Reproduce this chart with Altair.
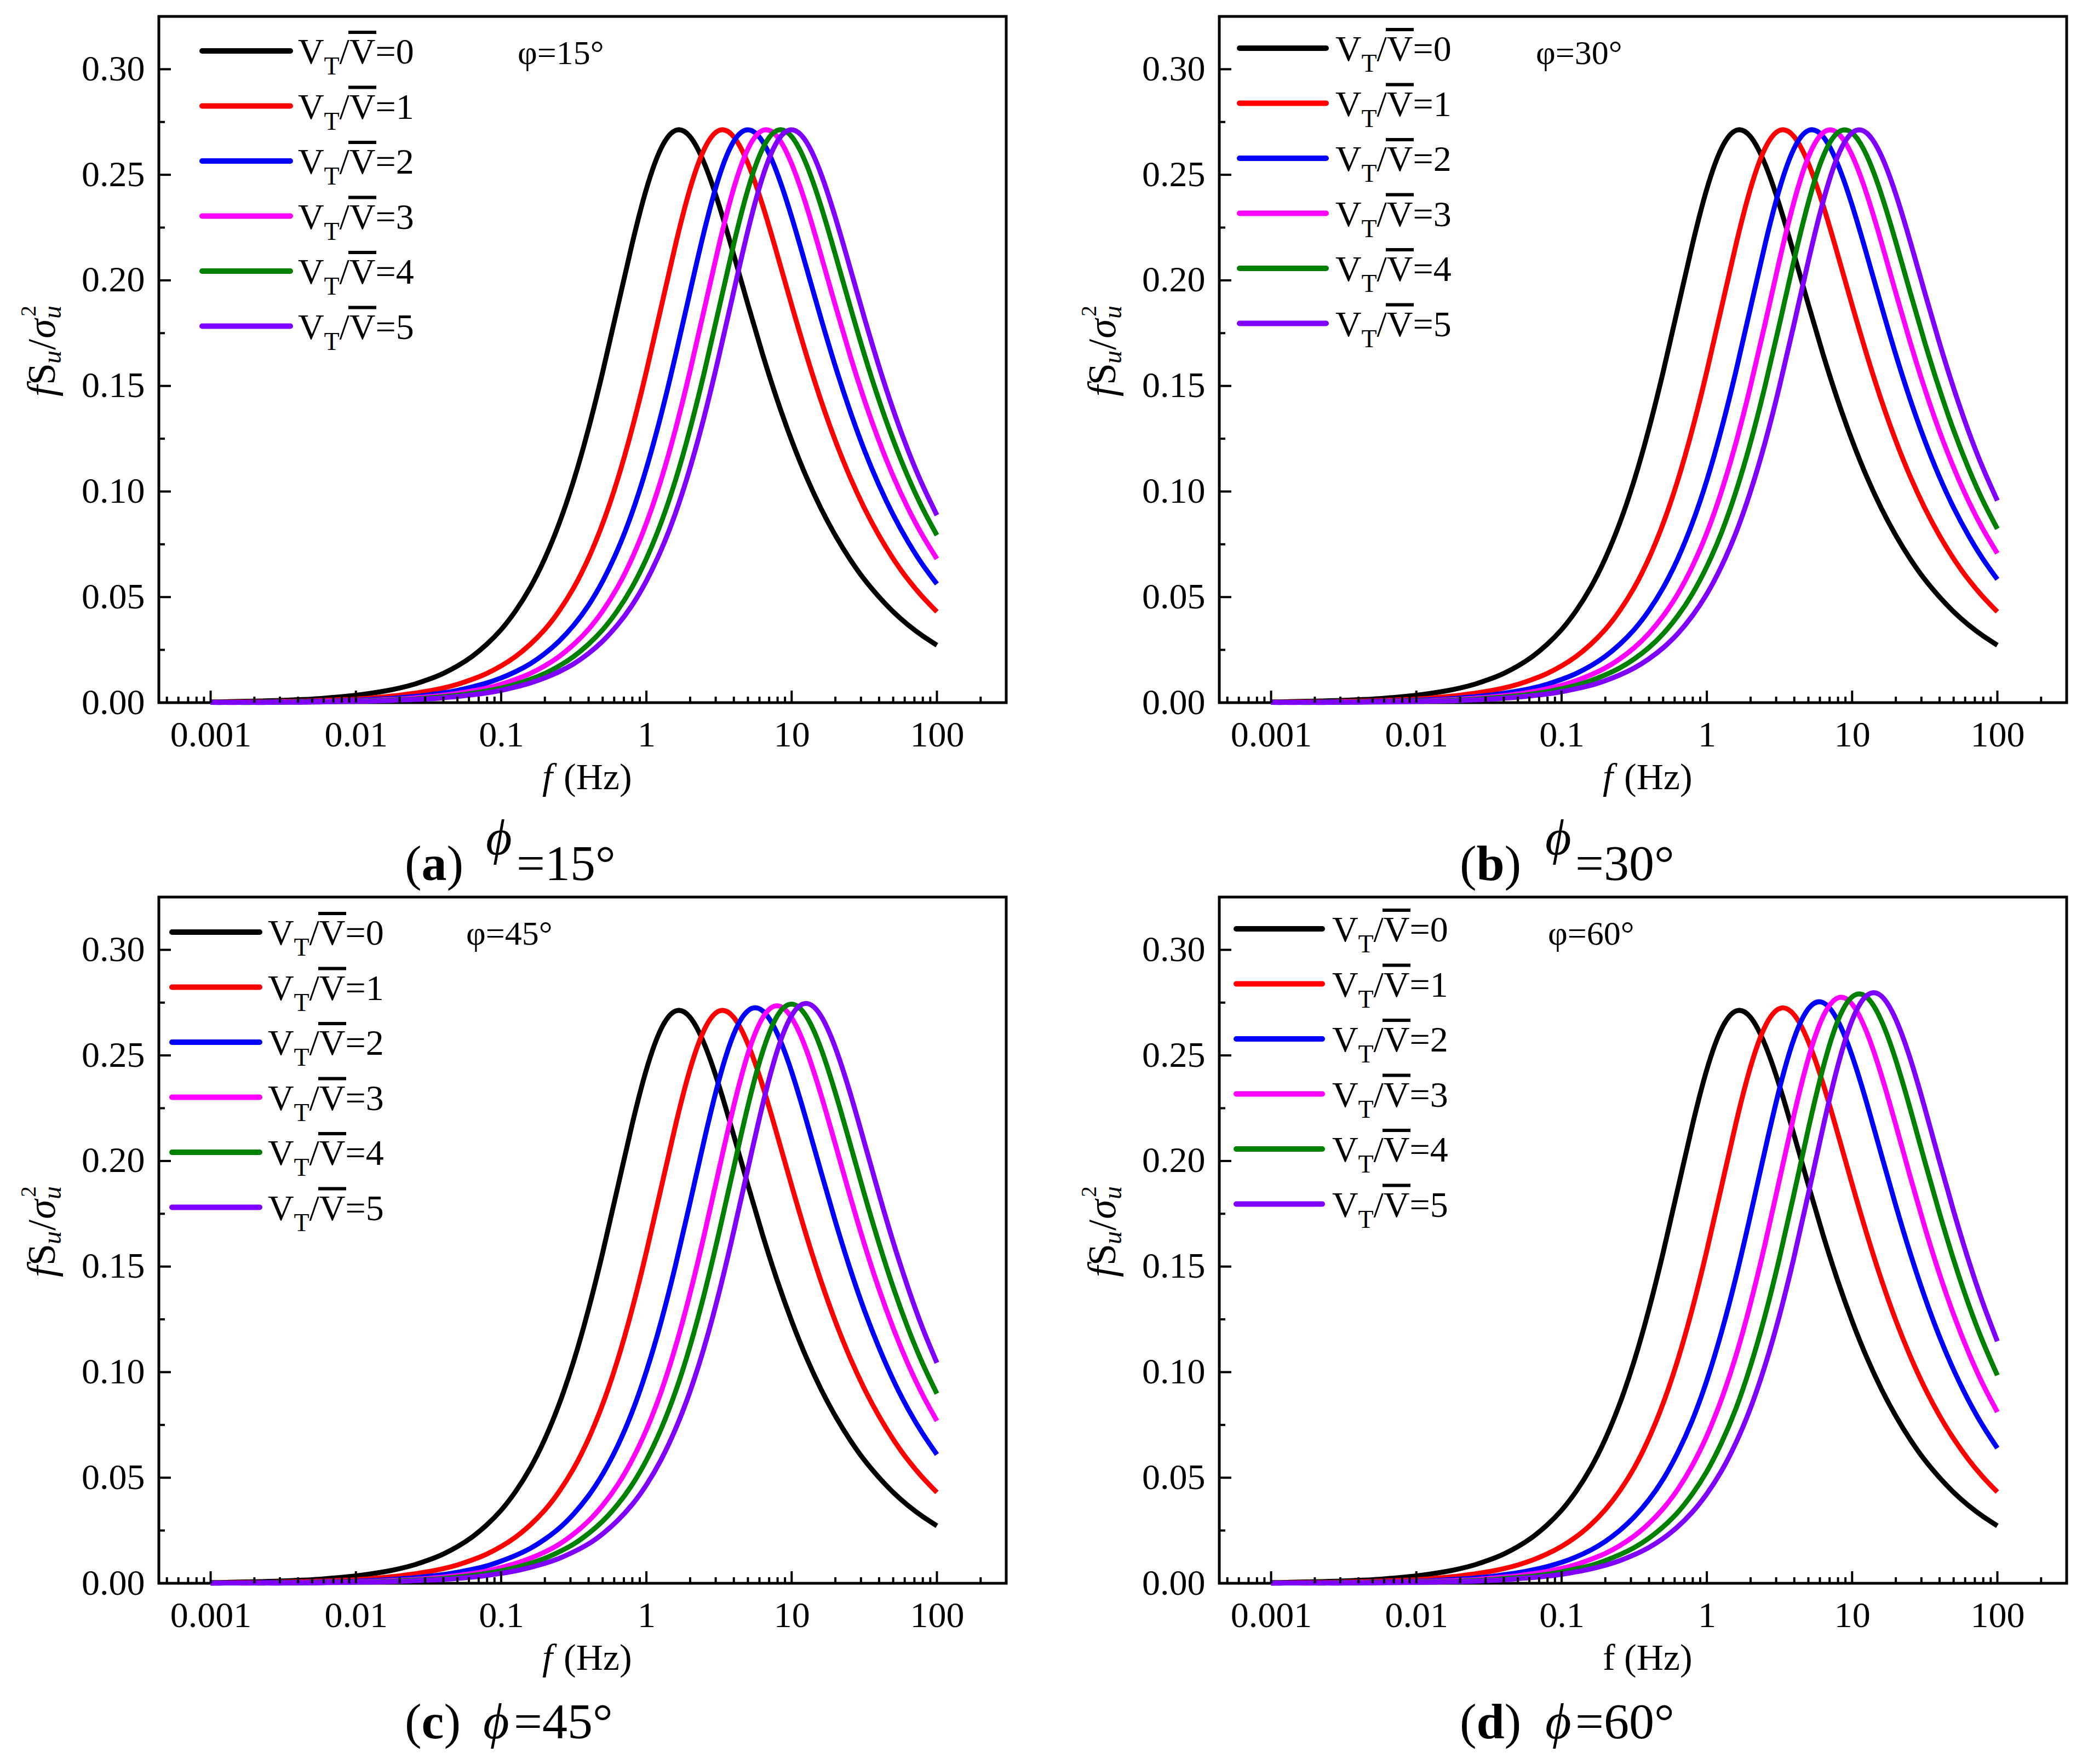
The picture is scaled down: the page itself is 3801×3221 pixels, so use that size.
"""
Four-panel spectrum chart: fS_u/sigma_u^2 against frequency for V_T/V = 0..5,
one panel per wind angle phi (15, 30, 45, 60 degrees).
"""

import altair as alt
import pandas as pd

SERIF = "Liberation Serif"
W, H = 1547, 1253  # plot area of one panel

# ===========================================================
# Data
# ===========================================================

F_HZ = [0.001, 0.001259, 0.001585, 0.001995, 0.002512, 0.003162, 0.003981, 0.005012, 0.00631, 0.007943,
        0.01, 0.01259, 0.01585, 0.01995, 0.02512, 0.03162, 0.03981, 0.05012, 0.0631, 0.07943,
        0.1, 0.1259, 0.1585, 0.1995, 0.2512, 0.3162, 0.3981, 0.5012, 0.631, 0.7943,
        1, 1.259, 1.585, 1.995, 2.512, 3.162, 3.981, 5.012, 6.31, 7.943,
        10, 12.59, 15.85, 19.95, 25.12, 31.62, 39.81, 50.12, 63.1, 79.43,
        100]

# V_T/V = 0 (same in every panel)
VT0 = [0.0003, 0.0004, 0.0006, 0.0007, 0.0009, 0.0011, 0.0014, 0.0017, 0.0022, 0.0028,
       0.0035, 0.0044, 0.0055, 0.0069, 0.0087, 0.0110, 0.0138, 0.0174, 0.0219, 0.0276,
       0.0346, 0.0435, 0.0545, 0.0682, 0.0850, 0.1053, 0.1294, 0.1569, 0.1868, 0.2168,
       0.2433, 0.2624, 0.2710, 0.2681, 0.2552, 0.2356, 0.2124, 0.1883, 0.1650, 0.1435,
       0.1242, 0.1071, 0.0922, 0.0793, 0.0681, 0.0584, 0.0502, 0.0430, 0.0369, 0.0317,
       0.0272]

# V_T/V = 1 for phi = 15, 30, 45
VT1 = [0.0002, 0.0002, 0.0003, 0.0003, 0.0004, 0.0006, 0.0007, 0.0009, 0.0011, 0.0014,
       0.0017, 0.0022, 0.0028, 0.0035, 0.0044, 0.0055, 0.0069, 0.0087, 0.0110, 0.0138,
       0.0174, 0.0219, 0.0276, 0.0346, 0.0435, 0.0545, 0.0682, 0.0850, 0.1053, 0.1294,
       0.1569, 0.1868, 0.2168, 0.2433, 0.2624, 0.2710, 0.2681, 0.2552, 0.2356, 0.2124,
       0.1883, 0.1650, 0.1435, 0.1242, 0.1071, 0.0922, 0.0793, 0.0681, 0.0584, 0.0502,
       0.0430]

# phi = 15
P15_VT2 = [0.0001, 0.0001, 0.0002, 0.0002, 0.0003, 0.0004, 0.0005, 0.0006, 0.0007, 0.0009,
           0.0012, 0.0015, 0.0018, 0.0023, 0.0029, 0.0037, 0.0046, 0.0058, 0.0074, 0.0093,
           0.0117, 0.0147, 0.0184, 0.0232, 0.0292, 0.0367, 0.0460, 0.0577, 0.0721, 0.0897,
           0.1110, 0.1360, 0.1643, 0.1944, 0.2239, 0.2490, 0.2657, 0.2713, 0.2657, 0.2508,
           0.2300, 0.2064, 0.1824, 0.1595, 0.1385, 0.1197, 0.1032, 0.0888, 0.0763, 0.0655,
           0.0562]
P15_VT3 = [0.0001, 0.0001, 0.0001, 0.0002, 0.0002, 0.0003, 0.0003, 0.0004, 0.0006, 0.0007,
           0.0009, 0.0011, 0.0014, 0.0017, 0.0022, 0.0028, 0.0035, 0.0044, 0.0055, 0.0069,
           0.0087, 0.0110, 0.0138, 0.0174, 0.0219, 0.0276, 0.0346, 0.0435, 0.0545, 0.0682,
           0.0850, 0.1053, 0.1294, 0.1569, 0.1868, 0.2168, 0.2433, 0.2624, 0.2710, 0.2681,
           0.2552, 0.2356, 0.2124, 0.1883, 0.1650, 0.1435, 0.1242, 0.1071, 0.0922, 0.0793,
           0.0681]
P15_VT4 = [0.0001, 0.0001, 0.0001, 0.0001, 0.0002, 0.0002, 0.0003, 0.0003, 0.0004, 0.0006,
           0.0007, 0.0009, 0.0011, 0.0014, 0.0017, 0.0022, 0.0028, 0.0035, 0.0044, 0.0055,
           0.0069, 0.0087, 0.0110, 0.0138, 0.0174, 0.0219, 0.0276, 0.0346, 0.0435, 0.0545,
           0.0682, 0.0850, 0.1053, 0.1294, 0.1569, 0.1868, 0.2168, 0.2433, 0.2624, 0.2710,
           0.2681, 0.2552, 0.2356, 0.2124, 0.1883, 0.1650, 0.1435, 0.1242, 0.1071, 0.0922,
           0.0793]
P15_VT5 = [0.0001, 0.0001, 0.0001, 0.0001, 0.0001, 0.0002, 0.0002, 0.0003, 0.0004, 0.0005,
           0.0006, 0.0007, 0.0009, 0.0012, 0.0015, 0.0018, 0.0023, 0.0029, 0.0037, 0.0046,
           0.0058, 0.0074, 0.0093, 0.0117, 0.0147, 0.0184, 0.0232, 0.0292, 0.0367, 0.0460,
           0.0577, 0.0721, 0.0897, 0.1110, 0.1360, 0.1643, 0.1944, 0.2239, 0.2490, 0.2657,
           0.2713, 0.2657, 0.2508, 0.2300, 0.2064, 0.1824, 0.1595, 0.1385, 0.1197, 0.1032,
           0.0888]

# phi = 30
P30_VT2 = [0.0001, 0.0001, 0.0002, 0.0002, 0.0003, 0.0003, 0.0004, 0.0006, 0.0007, 0.0009,
           0.0011, 0.0014, 0.0017, 0.0022, 0.0028, 0.0035, 0.0044, 0.0055, 0.0069, 0.0087,
           0.0110, 0.0138, 0.0174, 0.0219, 0.0276, 0.0346, 0.0435, 0.0545, 0.0682, 0.0850,
           0.1053, 0.1294, 0.1569, 0.1868, 0.2168, 0.2433, 0.2624, 0.2710, 0.2681, 0.2552,
           0.2356, 0.2124, 0.1883, 0.1650, 0.1435, 0.1242, 0.1071, 0.0922, 0.0793, 0.0681,
           0.0584]
P30_VT3 = [0.0001, 0.0001, 0.0001, 0.0002, 0.0002, 0.0003, 0.0003, 0.0004, 0.0005, 0.0007,
           0.0008, 0.0010, 0.0013, 0.0016, 0.0021, 0.0026, 0.0033, 0.0041, 0.0052, 0.0066,
           0.0082, 0.0104, 0.0131, 0.0164, 0.0207, 0.0260, 0.0327, 0.0411, 0.0515, 0.0645,
           0.0804, 0.0999, 0.1230, 0.1498, 0.1792, 0.2095, 0.2372, 0.2586, 0.2699, 0.2698,
           0.2592, 0.2410, 0.2184, 0.1943, 0.1707, 0.1487, 0.1288, 0.1112, 0.0957, 0.0823,
           0.0707]
P30_VT4 = [0.0001, 0.0001, 0.0001, 0.0001, 0.0002, 0.0002, 0.0003, 0.0003, 0.0004, 0.0005,
           0.0007, 0.0008, 0.0010, 0.0013, 0.0016, 0.0021, 0.0026, 0.0033, 0.0041, 0.0052,
           0.0066, 0.0082, 0.0104, 0.0131, 0.0164, 0.0207, 0.0260, 0.0327, 0.0411, 0.0515,
           0.0645, 0.0804, 0.0999, 0.1230, 0.1498, 0.1792, 0.2095, 0.2372, 0.2586, 0.2699,
           0.2698, 0.2592, 0.2410, 0.2184, 0.1943, 0.1707, 0.1487, 0.1288, 0.1112, 0.0957,
           0.0823]
P30_VT5 = [0.0001, 0.0001, 0.0001, 0.0001, 0.0001, 0.0002, 0.0002, 0.0003, 0.0003, 0.0004,
           0.0005, 0.0007, 0.0008, 0.0010, 0.0013, 0.0016, 0.0021, 0.0026, 0.0033, 0.0041,
           0.0052, 0.0066, 0.0082, 0.0104, 0.0131, 0.0164, 0.0207, 0.0260, 0.0327, 0.0411,
           0.0515, 0.0645, 0.0804, 0.0999, 0.1230, 0.1498, 0.1792, 0.2095, 0.2372, 0.2586,
           0.2699, 0.2698, 0.2592, 0.2410, 0.2184, 0.1943, 0.1707, 0.1487, 0.1288, 0.1112,
           0.0957]

# phi = 45
P45_VT2 = [0.0001, 0.0001, 0.0002, 0.0002, 0.0003, 0.0003, 0.0004, 0.0005, 0.0007, 0.0008,
           0.0010, 0.0013, 0.0016, 0.0021, 0.0026, 0.0033, 0.0041, 0.0052, 0.0066, 0.0082,
           0.0105, 0.0132, 0.0165, 0.0208, 0.0261, 0.0329, 0.0413, 0.0518, 0.0648, 0.0808,
           0.1004, 0.1236, 0.1505, 0.1801, 0.2105, 0.2384, 0.2599, 0.2712, 0.2711, 0.2605,
           0.2422, 0.2195, 0.1953, 0.1716, 0.1494, 0.1294, 0.1118, 0.0962, 0.0827, 0.0711,
           0.0610]
P45_VT3 = [0.0001, 0.0001, 0.0001, 0.0001, 0.0002, 0.0002, 0.0003, 0.0004, 0.0005, 0.0006,
           0.0007, 0.0009, 0.0012, 0.0015, 0.0018, 0.0023, 0.0029, 0.0037, 0.0046, 0.0058,
           0.0075, 0.0094, 0.0118, 0.0148, 0.0185, 0.0234, 0.0294, 0.0370, 0.0464, 0.0582,
           0.0727, 0.0904, 0.1119, 0.1371, 0.1656, 0.1960, 0.2257, 0.2510, 0.2678, 0.2735,
           0.2678, 0.2528, 0.2318, 0.2081, 0.1839, 0.1608, 0.1396, 0.1207, 0.1040, 0.0895,
           0.0769]
P45_VT4 = [0.0001, 0.0001, 0.0001, 0.0001, 0.0001, 0.0002, 0.0002, 0.0003, 0.0004, 0.0005,
           0.0006, 0.0007, 0.0009, 0.0012, 0.0015, 0.0018, 0.0023, 0.0029, 0.0037, 0.0047,
           0.0059, 0.0075, 0.0094, 0.0118, 0.0149, 0.0186, 0.0235, 0.0295, 0.0371, 0.0465,
           0.0583, 0.0729, 0.0907, 0.1122, 0.1375, 0.1661, 0.1965, 0.2264, 0.2517, 0.2686,
           0.2743, 0.2686, 0.2536, 0.2325, 0.2087, 0.1844, 0.1613, 0.1400, 0.1210, 0.1043,
           0.0898]
P45_VT5 = [0.0000, 0.0001, 0.0001, 0.0001, 0.0001, 0.0001, 0.0002, 0.0002, 0.0003, 0.0004,
           0.0005, 0.0006, 0.0007, 0.0009, 0.0012, 0.0015, 0.0018, 0.0023, 0.0029, 0.0037,
           0.0047, 0.0059, 0.0075, 0.0094, 0.0118, 0.0149, 0.0186, 0.0235, 0.0296, 0.0371,
           0.0466, 0.0584, 0.0730, 0.0908, 0.1123, 0.1376, 0.1663, 0.1967, 0.2266, 0.2520,
           0.2689, 0.2746, 0.2689, 0.2538, 0.2328, 0.2089, 0.1846, 0.1614, 0.1402, 0.1211,
           0.1044]

# phi = 60
P60_VT1 = [0.0002, 0.0002, 0.0003, 0.0003, 0.0004, 0.0006, 0.0007, 0.0009, 0.0011, 0.0014,
           0.0017, 0.0022, 0.0028, 0.0035, 0.0044, 0.0055, 0.0069, 0.0087, 0.0110, 0.0139,
           0.0175, 0.0220, 0.0277, 0.0348, 0.0437, 0.0547, 0.0685, 0.0854, 0.1058, 0.1300,
           0.1576, 0.1876, 0.2178, 0.2444, 0.2636, 0.2722, 0.2693, 0.2563, 0.2366, 0.2133,
           0.1891, 0.1657, 0.1441, 0.1247, 0.1076, 0.0926, 0.0796, 0.0684, 0.0587, 0.0504,
           0.0432]
P60_VT2 = [0.0001, 0.0001, 0.0002, 0.0002, 0.0002, 0.0003, 0.0004, 0.0005, 0.0006, 0.0008,
           0.0010, 0.0012, 0.0016, 0.0020, 0.0025, 0.0031, 0.0040, 0.0050, 0.0063, 0.0079,
           0.0099, 0.0125, 0.0157, 0.0198, 0.0250, 0.0314, 0.0394, 0.0494, 0.0619, 0.0772,
           0.0961, 0.1187, 0.1449, 0.1743, 0.2050, 0.2342, 0.2579, 0.2722, 0.2750, 0.2666,
           0.2498, 0.2277, 0.2033, 0.1791, 0.1563, 0.1356, 0.1171, 0.1009, 0.0868, 0.0746,
           0.0640]
P60_VT3 = [0.0001, 0.0001, 0.0001, 0.0001, 0.0002, 0.0002, 0.0003, 0.0003, 0.0004, 0.0006,
           0.0007, 0.0009, 0.0011, 0.0014, 0.0017, 0.0023, 0.0029, 0.0036, 0.0045, 0.0056,
           0.0071, 0.0089, 0.0113, 0.0141, 0.0178, 0.0224, 0.0282, 0.0354, 0.0445, 0.0558,
           0.0698, 0.0870, 0.1077, 0.1324, 0.1605, 0.1911, 0.2218, 0.2489, 0.2684, 0.2772,
           0.2743, 0.2611, 0.2410, 0.2173, 0.1926, 0.1688, 0.1468, 0.1271, 0.1096, 0.0943,
           0.0811]
P60_VT4 = [0.0001, 0.0001, 0.0001, 0.0001, 0.0001, 0.0002, 0.0002, 0.0003, 0.0003, 0.0004,
           0.0005, 0.0007, 0.0008, 0.0010, 0.0013, 0.0016, 0.0022, 0.0027, 0.0034, 0.0042,
           0.0054, 0.0068, 0.0084, 0.0107, 0.0135, 0.0169, 0.0213, 0.0268, 0.0336, 0.0423,
           0.0530, 0.0664, 0.0827, 0.1028, 0.1266, 0.1541, 0.1844, 0.2156, 0.2441, 0.2661,
           0.2777, 0.2776, 0.2667, 0.2480, 0.2247, 0.1999, 0.1757, 0.1530, 0.1325, 0.1144,
           0.0985]
P60_VT5 = [0.0000, 0.0001, 0.0001, 0.0001, 0.0001, 0.0001, 0.0002, 0.0002, 0.0003, 0.0003,
           0.0004, 0.0005, 0.0007, 0.0008, 0.0010, 0.0013, 0.0016, 0.0022, 0.0027, 0.0034,
           0.0042, 0.0054, 0.0068, 0.0085, 0.0107, 0.0135, 0.0169, 0.0213, 0.0268, 0.0337,
           0.0424, 0.0531, 0.0665, 0.0829, 0.1030, 0.1268, 0.1544, 0.1848, 0.2160, 0.2446,
           0.2666, 0.2783, 0.2782, 0.2672, 0.2485, 0.2252, 0.2003, 0.1760, 0.1533, 0.1328,
           0.1146]

VT_RATIOS = ["0", "1", "2", "3", "4", "5"]
SERIES_COLORS = ["#000000", "#ff0000", "#0000ff", "#ff00ff", "#008000", "#8000ff"]

X_MAJOR = [0.001, 0.01, 0.1, 1, 10, 100]
X_MINOR = [0.0005, 0.0006, 0.0007, 0.0008, 0.0009,
           0.002, 0.003, 0.004, 0.005, 0.006, 0.007, 0.008, 0.009,
           0.02, 0.03, 0.04, 0.05, 0.06, 0.07, 0.08, 0.09,
           0.2, 0.3, 0.4, 0.5, 0.6, 0.7, 0.8, 0.9,
           2, 3, 4, 5, 6, 7, 8, 9,
           20, 30, 40, 50, 60, 70, 80, 90, 200]
Y_MAJOR = [0.0, 0.05, 0.10, 0.15, 0.20, 0.25, 0.30]
Y_MINOR = [0.025, 0.075, 0.125, 0.175, 0.225, 0.275]

# per-panel text and layout (pixel offsets relative to the plot area)
PANELS = [
    dict(curves=[VT0, VT1, P15_VT2, P15_VT3, P15_VT4, P15_VT5], phi="15", letter="a",
         f_style="italic", swatch=(79, 240), tx=254, ly0=63, phi_x=655,
         cap_y=1577, paren_x=449, cphi_x=597, eq_x=653, raised=True),
    dict(curves=[VT0, VT1, P30_VT2, P30_VT3, P30_VT4, P30_VT5], phi="30", letter="b",
         f_style="italic", swatch=(37, 195), tx=212, ly0=58, phi_x=578,
         cap_y=1577, paren_x=439, cphi_x=595, eq_x=650, raised=True),
    dict(curves=[VT0, VT1, P45_VT2, P45_VT3, P45_VT4, P45_VT5], phi="45", letter="c",
         f_style="italic", swatch=(24, 184), tx=199, ly0=64, phi_x=561,
         cap_y=1536, paren_x=449, cphi_x=592, eq_x=648, raised=False),
    dict(curves=[VT0, P60_VT1, P60_VT2, P60_VT3, P60_VT4, P60_VT5], phi="60", letter="d",
         f_style="normal", swatch=(31, 188), tx=206, ly0=58, phi_x=600,
         cap_y=1536, paren_x=439, cphi_x=595, eq_x=650, raised=False),
]

BOLD_ADVANCE = {"a": 46, "b": 51, "c": 41, "d": 51}
LEG_DY = 100.5

ONE = pd.DataFrame({"o": [0]})


# ===========================================================
# Chart helpers
# ===========================================================

def _text(txt, x, y, size=66, style="normal", weight="normal", angle=0):
    return alt.Chart(ONE).mark_text(
        font=SERIF, fontSize=size, fontStyle=style, fontWeight=weight,
        align="left", baseline="alphabetic", angle=angle, color="black",
    ).encode(x=alt.value(x), y=alt.value(y), text=alt.value(txt))


def _x_axis():
    # every layer that uses the x scale gets the same axis, so the merge keeps it
    return alt.Axis(
        values=X_MAJOR, format="~g", title=None, ticks=False, tickSize=0,
        domain=False, grid=False, labelPadding=27, labelFlush=False,
        labelOverlap=False, labelFont=SERIF, labelFontSize=66, labelColor="black")


def make_panel(p):
    xs = alt.Scale(type="log", domain=[0.00044, 300], nice=False)
    ys = alt.Scale(domain=[0, 0.325], nice=False)
    colors = alt.Scale(domain=VT_RATIOS, range=SERIES_COLORS)

    rows = []
    for k, vals in zip(VT_RATIOS, p["curves"]):
        for f, v in zip(F_HZ, vals):
            rows.append({"f": f, "s": v, "k": k})
    df = pd.DataFrame(rows)

    lines = alt.Chart(df).mark_line(strokeWidth=9, interpolate="natural").encode(
        x=alt.X("f:Q", scale=xs, axis=_x_axis()),
        y=alt.Y("s:Q", scale=ys, axis=alt.Axis(
            values=Y_MAJOR, format=".2f", title=None, ticks=False, tickSize=0,
            domain=False, grid=False, labelPadding=26, labelFlush=False,
            labelOverlap=False, labelFont=SERIF, labelFontSize=66, labelColor="black")),
        color=alt.Color("k:N", scale=colors, legend=None),
    )

    # inward ticks, Origin style
    layers = [lines]
    for vals, length in [(X_MAJOR, 22), (X_MINOR, 11)]:
        layers.append(
            alt.Chart(pd.DataFrame({"f": vals})).mark_rule(strokeWidth=4, color="black")
            .encode(x=alt.X("f:Q", scale=xs, axis=_x_axis()), y=alt.value(H), y2=alt.value(H - length))
        )
    for vals, length in [(Y_MAJOR, 22), (Y_MINOR, 11)]:
        layers.append(
            alt.Chart(pd.DataFrame({"t": vals})).mark_rule(strokeWidth=4, color="black")
            .encode(y=alt.Y("t:Q", scale=ys, axis=None), x=alt.value(0), x2=alt.value(length))
        )

    # legend drawn by hand so V_T and the overbar can be typeset
    leg = pd.DataFrame({"k": VT_RATIOS, "lab": ["/V=" + r for r in VT_RATIOS]})
    ly = alt.Y("k:O", axis=None, scale=alt.Scale(
        type="point", domain=VT_RATIOS, range=[p["ly0"], p["ly0"] + 5 * LEG_DY], padding=0))
    tx = p["tx"]
    base = alt.Chart(leg)
    layers += [
        base.mark_rule(strokeWidth=10, strokeCap="round").encode(
            x=alt.value(p["swatch"][0]), x2=alt.value(p["swatch"][1]), y=ly,
            color=alt.Color("k:N", scale=colors, legend=None)),
        base.mark_text(font=SERIF, fontSize=66, align="left", baseline="alphabetic",
                       dy=23, color="black").encode(x=alt.value(tx), y=ly, text=alt.value("V")),
        base.mark_text(font=SERIF, fontSize=46, align="left", baseline="alphabetic",
                       dy=43, color="black").encode(x=alt.value(tx + 47.5), y=ly, text=alt.value("T")),
        base.mark_text(font=SERIF, fontSize=66, align="left", baseline="alphabetic",
                       dy=23, color="black").encode(x=alt.value(tx + 75.5), y=ly, text="lab:N"),
        base.mark_rule(strokeWidth=6, color="black", yOffset=-34).encode(
            x=alt.value(tx + 92), x2=alt.value(tx + 143), y=ly),
    ]

    # angle note inside the plot
    layers.append(_text("φ=" + p["phi"] + "°", p["phi_x"], 87, size=62))

    # y title  fS_u / sigma_u^2 (rotated)
    layers += [
        _text("f", -190, 694, 72, "italic", angle=270),
        _text("S", -190, 673, 72, angle=270),
        _text("u", -179, 634, 48, "italic", angle=270),
        _text("/", -190, 609, 72, angle=270),
        _text("σ", -190, 588, 72, "italic", angle=270),
        _text("2", -225, 548, 40, angle=270),
        _text("u", -179, 552, 48, "italic", angle=270),
    ]

    # x title
    layers += [
        _text("f", 700, H + 158, 68, p["f_style"]),
        _text("(Hz)", 739, H + 158, 68),
    ]

    # caption under the panel
    cy = p["cap_y"]
    px = p["paren_x"]
    lx = px + 30.6
    layers += [
        _text("(", px, cy, 92),
        _text(p["letter"], lx, cy, 92, weight="bold"),
        _text(")", lx + BOLD_ADVANCE[p["letter"]], cy, 92),
        _text("ϕ", p["cphi_x"], cy - 47 if p["raised"] else cy, 92, "italic"),
        _text("=" + p["phi"] + "°", p["eq_x"], cy, 92),
    ]

    return alt.layer(*layers).resolve_scale(y="independent").properties(width=W, height=H)


# ===========================================================
# Assemble
# ===========================================================

panels = [make_panel(p) for p in PANELS]

chart = (
    alt.concat(*panels, columns=2, spacing={"row": 355, "column": 389}, bounds="flush")
    .properties(padding={"left": 22, "top": 19, "right": 10, "bottom": 10})
    .configure_view(stroke="black", strokeWidth=5)
)

chart.save("out.html", embed_options={"renderer": "svg", "actions": False})
